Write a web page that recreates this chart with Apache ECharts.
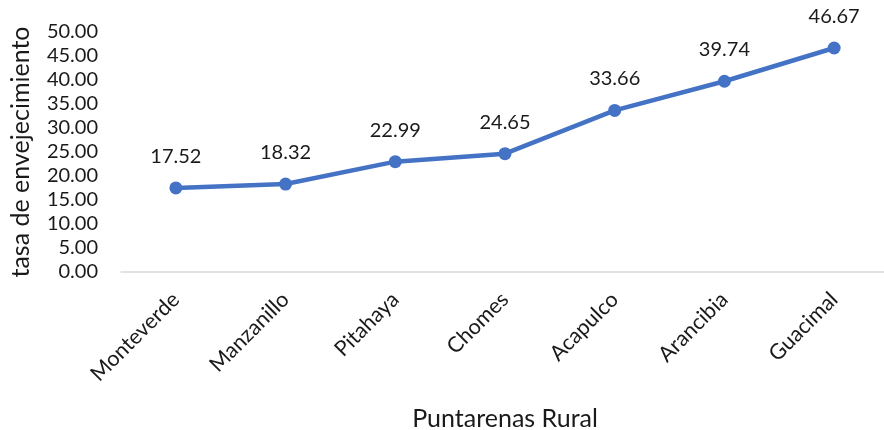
<!DOCTYPE html>
<html><head><meta charset="utf-8">
<script src="https://cdn.jsdelivr.net/npm/echarts@6/dist/echarts.min.js"></script>
<style>html,body{margin:0;padding:0;background:#fff}#c{width:884px;height:430px}</style>
</head><body><div id="c"></div>
<script>
const categories = ['Monteverde','Manzanillo','Pitahaya','Chomes','Acapulco','Arancibia','Guacimal'];
const values = [17.52, 18.32, 22.99, 24.65, 33.66, 39.74, 46.67];
const yTicks = [0, 5, 10, 15, 20, 25, 30, 35, 40, 45, 50];
const xTitle = 'Puntarenas Rural';
const yTitle = 'tasa de envejecimiento';
const font = 'Lato, sans-serif';
const chart = echarts.init(document.getElementById('c'));
chart.setOption({
  animation: false,
  grid: {left: 121, top: 32, width: 768, height: 240, containLabel: false, outerBoundsMode: 'none'},
  xAxis: {
    type: 'category', data: categories, boundaryGap: true,
    name: xTitle, nameLocation: 'middle', nameGap: 134,
    nameTextStyle: {fontFamily: font, fontSize: 25, color: '#1a1a1a'},
    axisLine: {lineStyle: {color: '#d9d9d9', width: 1.5}},
    axisTick: {show: false},
    axisLabel: {rotate: 45, margin: 24, fontFamily: font, fontSize: 21.5, color: '#1a1a1a', interval: 0}
  },
  yAxis: {
    type: 'value', min: yTicks[0], max: yTicks[yTicks.length-1], interval: yTicks[1]-yTicks[0],
    name: yTitle, nameLocation: 'middle', nameGap: 88,
    nameTextStyle: {fontFamily: font, fontSize: 25, color: '#1a1a1a'},
    axisLine: {show: false}, axisTick: {show: false}, splitLine: {show: false},
    axisLabel: {formatter: v => v.toFixed(2), fontFamily: font, fontSize: 20, color: '#1a1a1a', margin: 23}
  },
  series: [{
    type: 'line', data: values,
    lineStyle: {color: '#4472C4', width: 4.5},
    itemStyle: {color: '#4472C4'},
    symbol: 'circle', symbolSize: 13,
    label: {show: true, position: 'top', distance: 15, formatter: p => p.value.toFixed(2),
      fontFamily: font, fontSize: 20, color: '#1a1a1a'}
  }]
});
</script></body></html>
